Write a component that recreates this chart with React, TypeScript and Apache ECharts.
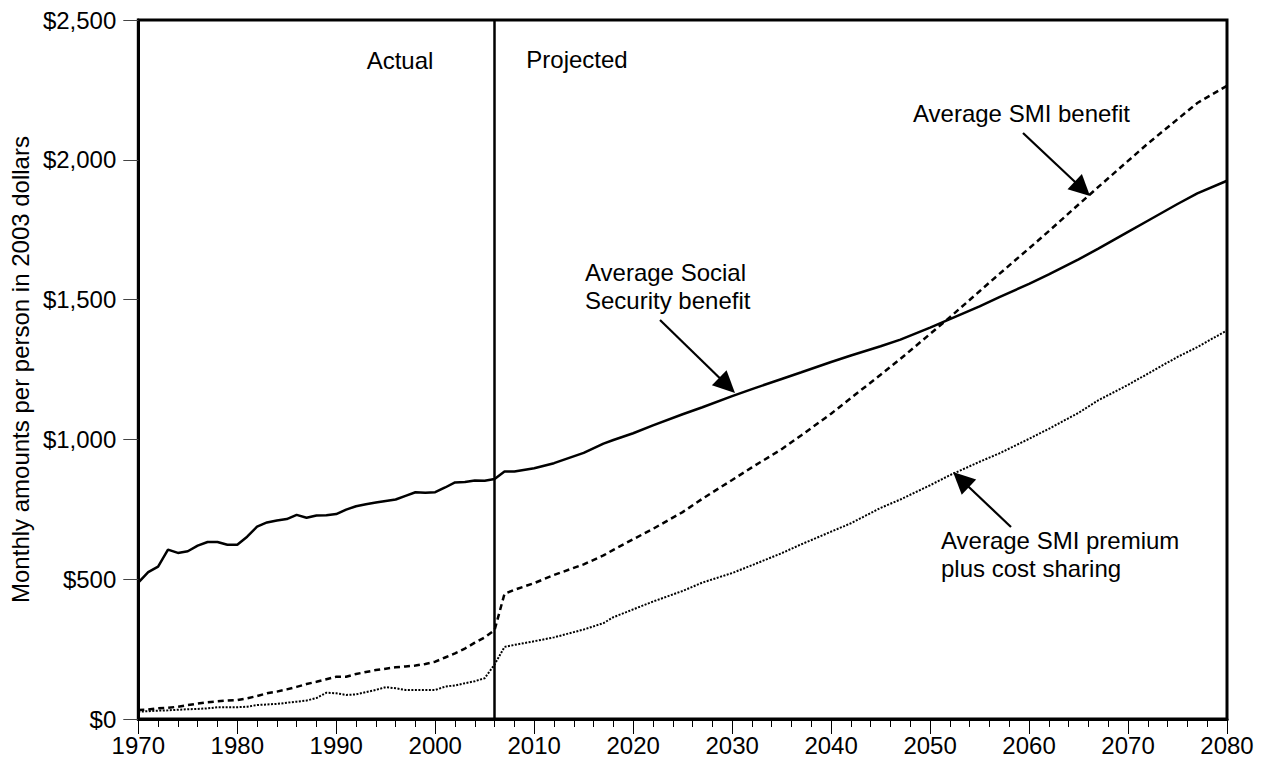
import React, { useEffect, useRef } from "react";
import * as echarts from "echarts";

// ---------- DATA ----------
const histYears = [
  1970, 1971, 1972, 1973, 1974, 1975, 1976, 1977, 1978, 1979,
  1980, 1981, 1982, 1983, 1984, 1985, 1986, 1987, 1988, 1989,
  1990, 1991, 1992, 1993, 1994, 1995, 1996, 1997, 1998, 1999,
  2000, 2001, 2002, 2003, 2004, 2005, 2006,
];
const projYears = [
  2007, 2008, 2010, 2012, 2015, 2017, 2018, 2020, 2022, 2025, 2027, 2030,
  2032, 2035, 2037, 2040, 2042, 2045, 2047, 2050, 2052, 2055, 2057, 2060,
  2062, 2065, 2067, 2070, 2072, 2075, 2077, 2080,
];

const ssHist = [
  488, 525, 545, 606, 594, 600, 620, 633, 633, 623,
  623, 652, 688, 703, 710, 715, 730, 720, 728, 729,
  733, 749, 761, 768, 774, 780, 785, 798, 811, 809,
  811, 828, 846, 848, 853, 852, 858,
];
const ssProj = [
  885, 885, 897, 915, 952, 985, 998, 1022, 1050, 1090, 1115, 1155,
  1180, 1216, 1240, 1277, 1300, 1333, 1357, 1400, 1430, 1476, 1509, 1556,
  1590, 1644, 1682, 1742, 1782, 1842, 1880, 1925,
];

const smiHist = [
  32, 34, 38, 40, 44, 50, 55, 60, 63, 66,
  68, 74, 82, 92, 98, 106, 115, 125, 133, 142,
  151, 151, 161, 168, 175, 180, 185, 188, 191, 197,
  205, 220, 235, 252, 273, 292, 318,
];
const smiProj = [
  448, 462, 486, 515, 553, 585, 605, 643, 680, 740, 788, 855,
  900, 965, 1015, 1092, 1148, 1231, 1288, 1377, 1437, 1530, 1592, 1683,
  1745, 1840, 1903, 1996, 2058, 2145, 2203, 2265,
];

const premHist = [
  26, 28, 30, 31, 33, 35, 36, 38, 42, 42,
  42, 44, 50, 52, 54, 58, 62, 66, 75, 94,
  92, 86, 88, 96, 104, 114, 110, 104, 104, 104,
  104, 116, 120, 128, 135, 146, 195,
];
const premProj = [
  258, 265, 278, 292, 320, 343, 364, 392, 420, 458, 488, 522,
  550, 593, 625, 670, 700, 755, 785, 836, 872, 920, 950, 1002,
  1038, 1095, 1140, 1195, 1235, 1295, 1330, 1390,
];

const yTicks = [0, 500, 1000, 1500, 2000, 2500];
const projectionStart = 2006;

const FONT = "'Liberation Sans', Arial, Helvetica, sans-serif";
const FS = 24;

function pairs(years: number[], vals: number[]) {
  return years.map((y, i) => [y, vals[i]]);
}

function arrow(x1: number, y1: number, tx: number, ty: number, len = 22, half = 10.5) {
  const dx = tx - x1;
  const dy = ty - y1;
  const d = Math.sqrt(dx * dx + dy * dy);
  const ux = dx / d;
  const uy = dy / d;
  const bx = tx - ux * len;
  const by = ty - uy * len;
  const nx = -uy;
  const ny = ux;
  return [
    {
      type: "line",
      shape: { x1, y1, x2: bx + ux * 2, y2: by + uy * 2 },
      style: { stroke: "#000", lineWidth: 2.2 },
      z: 100,
    },
    {
      type: "polygon",
      shape: {
        points: [
          [tx, ty],
          [bx + nx * half, by + ny * half],
          [bx - nx * half, by - ny * half],
        ],
      },
      style: { fill: "#000" },
      z: 100,
    },
  ];
}

function label(text: string, x: number, y: number, align: string, lineHeight = 28) {
  return {
    type: "text",
    x,
    y,
    z: 100,
    style: {
      text,
      fill: "#000",
      font: `${FS}px ${FONT}`,
      fontSize: FS,
      fontFamily: FONT,
      align,
      verticalAlign: "middle",
      lineHeight,
    },
  };
}

export default function App() {
  const ref = useRef<HTMLDivElement>(null);

  useEffect(() => {
    if (!ref.current) return;
    const chart = echarts.init(ref.current, undefined, { renderer: "svg" });

    const option: any = {
      animation: false,
      backgroundColor: "#ffffff",
      textStyle: { fontFamily: FONT },
      grid: {
        left: 135,
        right: 34,
        top: 20,
        bottom: 39,
        show: true,
        borderColor: "#000",
        borderWidth: 3,
        backgroundColor: "transparent",
      },
      xAxis: {
        type: "value",
        min: 1970,
        max: 2080,
        interval: 10,
        axisLine: { show: true, onZero: false, lineStyle: { color: "#000", width: 3 } },
        axisTick: { show: true, length: 15, lineStyle: { color: "#000", width: 1 } },
        minorTick: { show: true, splitNumber: 5, length: 8, lineStyle: { color: "#000", width: 1 } },
        axisLabel: {
          color: "#000",
          fontSize: FS,
          fontFamily: FONT,
          margin: 14,
          formatter: (v: number) => String(v),
        },
        splitLine: { show: false },
        minorSplitLine: { show: false },
      },
      yAxis: {
        type: "value",
        min: yTicks[0],
        max: yTicks[yTicks.length - 1],
        interval: 500,
        name: "Monthly amounts per person in 2003 dollars",
        nameLocation: "middle",
        nameRotate: 90,
        nameGap: 97,
        nameTextStyle: { color: "#000", fontSize: FS, fontFamily: FONT },
        axisLine: { show: true, lineStyle: { color: "#000", width: 3 } },
        axisTick: { show: true, length: 15, lineStyle: { color: "#444", width: 1 } },
        axisLabel: {
          color: "#000",
          fontSize: FS,
          fontFamily: FONT,
          margin: 22,
          formatter: (v: number) => "$" + v.toLocaleString("en-US"),
        },
        splitLine: { show: false },
      },
      series: [
        {
          name: "Average Social Security benefit",
          type: "line",
          data: pairs(histYears.concat(projYears), ssHist.concat(ssProj)),
          symbol: "none",
          lineStyle: { color: "#000", width: 2.5, type: "solid" },
          z: 5,
          markLine: {
            silent: true,
            symbol: ["none", "none"],
            label: { show: false },
            lineStyle: { color: "#000", width: 2.5, type: "solid" },
            data: [{ xAxis: projectionStart }],
          },
        },
        {
          name: "Average SMI benefit",
          type: "line",
          data: pairs(histYears.concat(projYears), smiHist.concat(smiProj)),
          symbol: "none",
          lineStyle: { color: "#000", width: 2.5, type: [6, 4] },
          z: 4,
        },
        {
          name: "Average SMI premium plus cost sharing",
          type: "line",
          data: pairs(histYears.concat(projYears), premHist.concat(premProj)),
          symbol: "none",
          lineStyle: { color: "#000", width: 2, type: [2, 1.5] },
          z: 3,
        },
      ],
      graphic: [
        label("Actual", 400, 60, "center"),
        label("Projected", 577, 59, "center"),
        label("Average Social\nSecurity benefit", 585, 286, "left"),
        label("Average SMI benefit", 913, 113, "left"),
        label("Average SMI premium\nplus cost sharing", 941, 554, "left"),
        ...arrow(660, 320, 735, 393),
        ...arrow(1023, 133, 1090, 196, 21, 10.5),
        ...arrow(1011, 527, 953, 472),
      ],
    };

    chart.setOption(option);
    return () => chart.dispose();
  }, []);

  return (
    <div
      ref={ref}
      style={{ position: "fixed", left: 0, top: 0, width: 1261, height: 758, background: "#fff" }}
    />
  );
}
